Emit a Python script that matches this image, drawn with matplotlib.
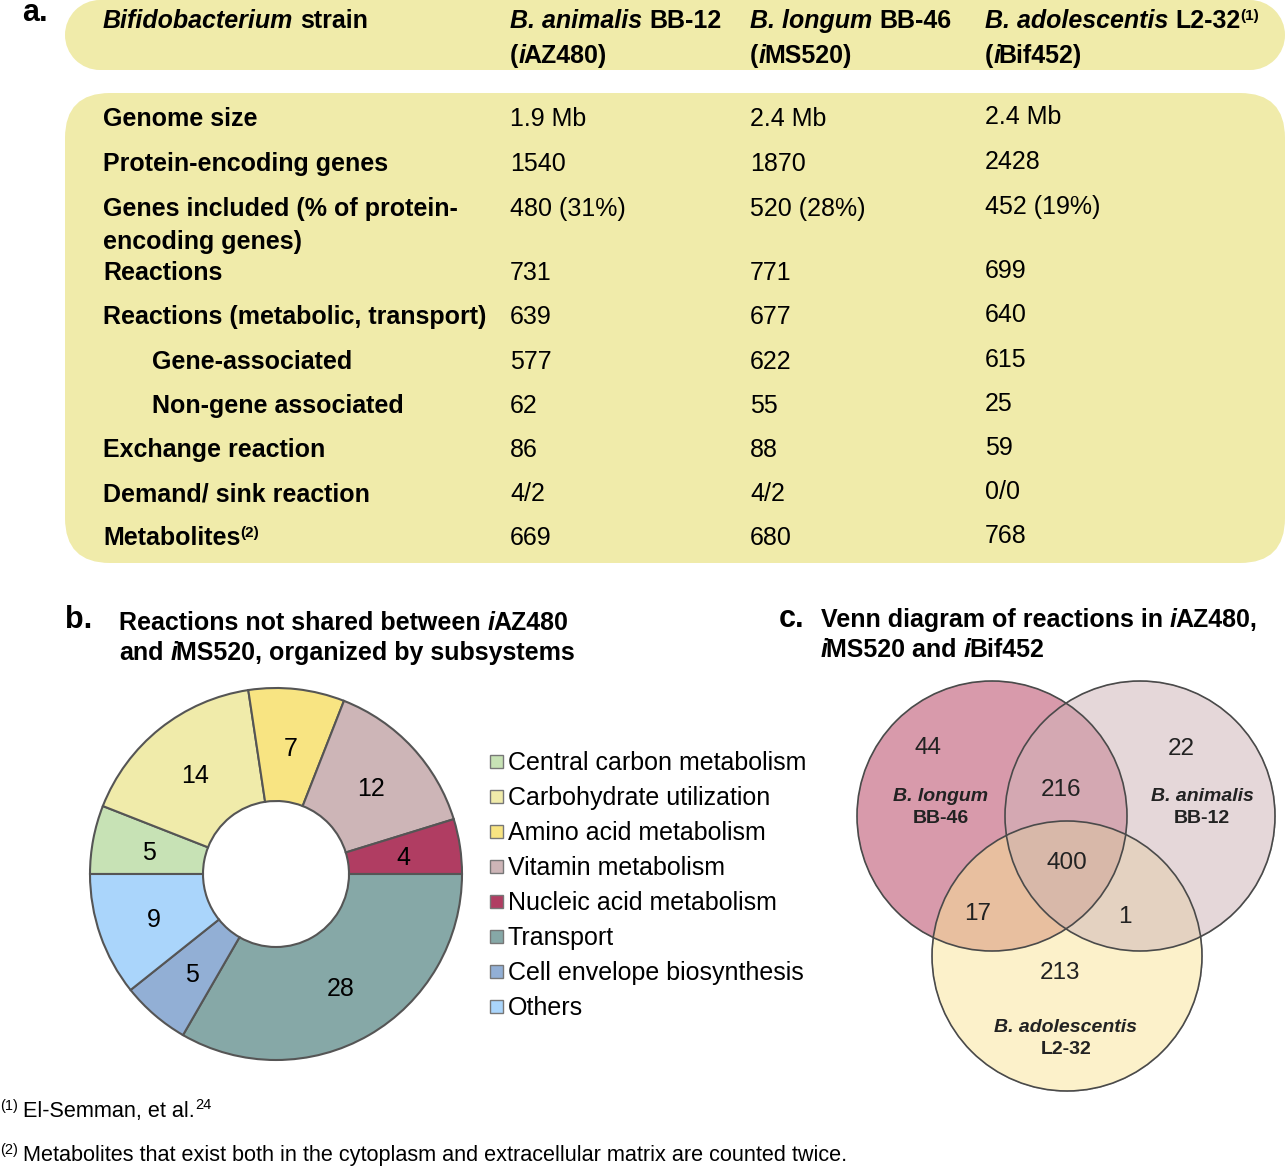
import numpy as np
import matplotlib.pyplot as plt
from matplotlib.patches import FancyBboxPatch, Rectangle, Circle
from matplotlib.colors import to_rgba

plt.rcParams['font.family'] = ['Liberation Sans', 'DejaVu Sans']

# ---- data ----
strains = ["B. animalis", "B. longum", "B. adolescentis"]
strain_ids = ["BB-12", "BB-46", "L2-32"]
models = ["AZ480", "MS520", "Bif452"]
row_labels = ["Genome size", "Protein-encoding genes",
              "Genes included (% of protein-\nencoding genes)", "Reactions",
              "Reactions (metabolic, transport)", "Gene-associated",
              "Non-gene associated", "Exchange reaction",
              "Demand/ sink reaction", "Metabolites"]
col_animalis = ["1.9 Mb", "1540", "480 (31%)", "731", "639", "577", "62", "86", "4/2", "669"]
col_longum = ["2.4 Mb", "1870", "520 (28%)", "771", "677", "622", "55", "88", "4/2", "680"]
col_adolescentis = ["2.4 Mb", "2428", "452 (19%)", "699", "640", "615", "25", "59", "0/0", "768"]

subsystems = ["Central carbon metabolism", "Carbohydrate utilization",
              "Amino acid metabolism", "Vitamin metabolism",
              "Nucleic acid metabolism", "Transport",
              "Cell envelope biosynthesis", "Others"]
counts = [5, 14, 7, 12, 4, 28, 5, 9]
sub_colors = ['#C7E2B5', '#F0EBAA', '#F8E482', '#CDB5B7',
              '#B03D62', '#86A8A7', '#92AFD5', '#AAD5FB']

# venn regions: longum only, animalis only, adolescentis only,
# longum&animalis, longum&adolescentis, animalis&adolescentis, all three
venn_values = [44, 22, 213, 216, 17, 1, 400]

# ---- figure in pixel coordinates ----
H = 1166
fig = plt.figure(figsize=(12.87, 11.66), dpi=100)
ax = fig.add_axes([0, 0, 1, 1])
ax.set_xlim(0, 1287)
ax.set_ylim(0, H)
ax.axis('off')
r = fig.canvas.get_renderer()


def Y(py):
    return H - py


def txt(x, py, s, size=18, weight='normal', style='normal', ha='left', color='black'):
    return ax.text(x, Y(py), s, fontsize=size, fontweight=weight, fontstyle=style,
                   ha=ha, va='baseline', color=color)


def width(t):
    return t.get_window_extent(renderer=r).width


def space(size, weight, style):
    a = txt(0, 0, 'xx', size, weight, style)
    b = txt(0, 0, 'x x', size, weight, style)
    w = width(b) - width(a)
    a.remove()
    b.remove()
    return w


def runs(x, py, parts, size=18, color='black'):
    # parts: (text, weight, style[, size[, raise]])
    for p in parts:
        s, weight, style = p[:3]
        sz = p[3] if len(p) > 3 else size
        dy = p[4] if len(p) > 4 else 0
        lead = len(s) - len(s.lstrip(' '))
        trail = len(s) - len(s.rstrip(' '))
        x += lead * space(sz, weight, style)
        t = txt(x, py - dy, s.strip(' '), sz, weight, style, color=color)
        x += width(t) + trail * space(sz, weight, style)
        if style == 'italic' and s == 'i':
            x -= 1.5
    return x


# ---- panel a: table ----
tab_col = '#F0EBAA'
ax.add_patch(FancyBboxPatch((65, Y(563)), 1220, 470,
                            boxstyle="round,pad=0,rounding_size=45",
                            fc=tab_col, ec='none'))
# header box with semicircular ends
ax.add_patch(Circle((100, Y(35)), 35, fc=tab_col, ec='none'))
ax.add_patch(Circle((1250, Y(35)), 35, fc=tab_col, ec='none'))
ax.add_patch(Rectangle((100, Y(70)), 1150, 70, fc=tab_col, ec='none'))

txt(22, 21, "a.", 22, 'bold')
runs(103, 28, [("Bifidobacterium", 'bold', 'italic'), (" strain", 'bold', 'normal')])
col_x = [510, 750, 985]
for i in range(3):
    parts = [(strains[i], 'bold', 'italic'), (" " + strain_ids[i], 'bold', 'normal')]
    if i == 2:
        parts.append(("(1)", 'bold', 'normal', 11, 8))
    runs(col_x[i], 28, parts)
    runs(col_x[i], 63, [("(", 'bold', 'normal'), ("i", 'bold', 'italic'),
                        (models[i] + ")", 'bold', 'normal')])

row_base = [126, 171, 216, 280, 324, 369, 413, 457, 501, 545]
for i, lab in enumerate(row_labels):
    x0 = 152 if lab in ("Gene-associated", "Non-gene associated") else 103
    for k, line in enumerate(lab.split('\n')):
        if lab == "Metabolites":
            runs(x0, row_base[i], [(line, 'bold', 'normal'), ("(2)", 'bold', 'normal', 11, 8)])
        else:
            txt(x0, row_base[i] + 33 * k, line, 18, 'bold')
    txt(col_x[0], row_base[i], col_animalis[i])
    txt(col_x[1], row_base[i], col_longum[i])
    txt(col_x[2], row_base[i] - 2, col_adolescentis[i])

# ---- panel b: donut ----
txt(65, 628, "b.", 22, 'bold')
runs(119, 630, [("Reactions not shared between ", 'bold', 'normal'), ("i", 'bold', 'italic'),
                ("AZ480", 'bold', 'normal')])
runs(119, 660, [("and ", 'bold', 'normal'), ("i", 'bold', 'italic'),
                ("MS520, organized by subsystems", 'bold', 'normal')])

total = sum(counts)
wedges, _, autotexts = ax.pie(
    counts, colors=sub_colors, startangle=180, counterclock=False,
    radius=186, center=(276, Y(874)), frame=True,
    wedgeprops=dict(width=113, edgecolor='#555555', linewidth=1.5),
    autopct=lambda p: f"{round(p * total / 100)}", pctdistance=0.695,
    textprops=dict(fontsize=18, color='black'))
for t in autotexts:
    px, py = t.get_position()
    t.set_position((px, py - 3))

leg_y = 761
for i, name in enumerate(subsystems):
    cy = leg_y + 35 * i
    ax.add_patch(Rectangle((490, Y(cy + 6.5)), 13, 13, fc=sub_colors[i],
                           ec='#777777', lw=1))
    txt(508, cy + 9, name, 18)

# ---- panel c: venn ----
txt(779, 627, "c.", 22, 'bold')
runs(821, 627, [("Venn diagram of reactions in ", 'bold', 'normal'), ("i", 'bold', 'italic'),
                ("AZ480,", 'bold', 'normal')])
runs(821, 657, [("i", 'bold', 'italic'), ("MS520 and ", 'bold', 'normal'),
                ("i", 'bold', 'italic'), ("Bif452", 'bold', 'normal')])

circles = [(992, 816, 135), (1140, 816, 135), (1067, 956, 135)]
xs = np.arange(850, 1285, 0.5)
ys = np.arange(675, 1095, 0.5)
XX, YY = np.meshgrid(xs, ys)
A, B, C = [(XX - cx) ** 2 + (YY - cy) ** 2 <= rr ** 2 for cx, cy, rr in circles]
region_cols = {
    (1, 0, 0): '#D89BAC', (0, 1, 0): '#E5D7D9', (0, 0, 1): '#FCF2CA',
    (1, 1, 0): '#D5A8B2', (1, 0, 1): '#E8C0A0', (0, 1, 1): '#E4D3C1',
    (1, 1, 1): '#D8B8A9'}
img = np.zeros(XX.shape + (4,))
for key, col in region_cols.items():
    m = (A == bool(key[0])) & (B == bool(key[1])) & (C == bool(key[2]))
    img[m] = to_rgba(col)
ax.imshow(img, extent=(850, 1285, Y(1095), Y(675)), origin='upper',
          aspect='auto', interpolation='bilinear', zorder=1)
for cx, cy, rr in circles:
    ax.add_patch(Circle((cx, Y(cy)), rr, fill=False, ec='#4A4A4A', lw=1.2, zorder=2))

venn_pos = [(928, 754), (1181, 755), (1060, 979), (1061, 796), (978, 920),
            (1125, 923), (1067, 869)]
for v, (x, y) in zip(venn_values, venn_pos):
    txt(x, y, str(v), 17.5, ha='center', color='#222222').set_zorder(3)

name_pos = [(941, 801), (1202, 801), (1066, 1032)]
order = [1, 0, 2]
for i, (x, y) in enumerate(name_pos):
    txt(x, y, strains[order[i]], 14, 'bold', 'italic', ha='center', color='#222222').set_zorder(3)
    txt(x, y + 22, strain_ids[order[i]], 14, 'bold', ha='center', color='#222222').set_zorder(3)

# ---- footnotes ----
runs(0, 1110, [("(1)", 'normal', 'normal', 10.5)])
runs(23, 1117, [("El-Semman, et al.", 'normal', 'normal', 15.6), ("24", 'normal', 'normal', 10.5, 8)])
runs(0, 1154, [("(2)", 'normal', 'normal', 10.5)])
txt(23, 1161, "Metabolites that exist both in the cytoplasm and extracellular matrix are counted twice.", 15.6)

ax.set_xlim(0, 1287)
ax.set_ylim(0, H)
ax.set_aspect('auto')
fig.savefig("out.png", dpi=100)
